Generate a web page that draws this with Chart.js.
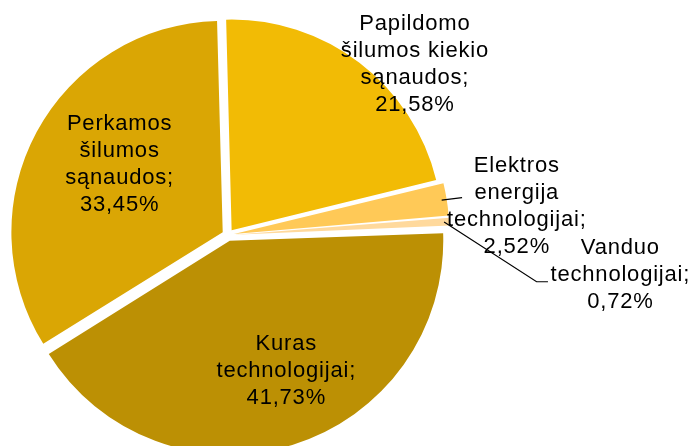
<!DOCTYPE html>
<html>
<head>
<meta charset="utf-8">
<script src="https://cdn.jsdelivr.net/npm/chart.js@4"></script>
<style>
  html, body { margin: 0; padding: 0; background: #fff; overflow: hidden; }
  #wrap { width: 692px; height: 446px; position: relative; }
</style>
</head>
<body>
<div id="wrap"><canvas id="pieChart"></canvas></div>
<script>
// slices, clockwise from the top
const categories = [
  'Papildomo\nšilumos kiekio\nsąnaudos',
  'Elektros\nenergija\ntechnologijai',
  'Vanduo\ntechnologijai',
  'Kuras\ntechnologijai',
  'Perkamos\nšilumos\nsąnaudos'
];
const values = [21.58, 2.52, 0.72, 41.73, 33.45];
const colors = ['#F2BB05', '#FFC957', '#FFD99C', '#BC9004', '#DAA604'];

// label centres, as fractions of the radius from the pie centre
const labelPos = [[0.888, -0.812], [1.372, -0.136], [1.864, 0.191], [0.277, 0.648], [-0.515, -0.336]];
// leader lines (slices whose label sits outside)
const leaders = { 1: [[1.112, -0.178]], 2: [[1.466, 0.222], [1.520, 0.222]] };

const pctText = v => v.toFixed(2).replace('.', ',') + '%';

const pieLabels = {
  id: 'pieLabels',
  afterDatasetsDraw(chart) {
    const ctx = chart.ctx;
    const arcs = chart.getDatasetMeta(0).data;
    const fontSize = 22, lh = 27;
    ctx.save();
    ctx.fillStyle = '#000';
    ctx.strokeStyle = '#000';
    ctx.lineWidth = 1.2;
    ctx.font = fontSize + 'px "Liberation Sans", Arial, sans-serif';
    ctx.letterSpacing = '0.8px';
    ctx.textAlign = 'center';
    ctx.textBaseline = 'middle';
    arcs.forEach((arc, i) => {
      const { x, y, outerRadius: r, startAngle, endAngle } = arc.getProps(['x', 'y', 'outerRadius', 'startAngle', 'endAngle'], true);
      if (leaders[i]) {
        const mid = (startAngle + endAngle) / 2;
        const off = arc.options.offset / 4; // v4 draws arcs offset by offset/4
        ctx.beginPath();
        ctx.moveTo(x + (r + off) * Math.cos(mid), y + (r + off) * Math.sin(mid));
        leaders[i].forEach(p => ctx.lineTo(x + p[0] * r, y + p[1] * r));
        ctx.stroke();
      }
      const lines = (categories[i] + ';').split('\n').concat(pctText(values[i]));
      const cx = x + labelPos[i][0] * r, cy = y + labelPos[i][1] * r;
      lines.forEach((t, k) => {
        ctx.fillText(t, cx, cy + (k - (lines.length - 1) / 2) * lh);
      });
    });
    ctx.restore();
  }
};

new Chart(document.getElementById('pieChart'), {
  type: 'pie',
  data: {
    labels: categories,
    datasets: [{
      data: values,
      backgroundColor: colors,
      borderWidth: 0,
      offset: 24,
      hoverOffset: 0,
      clip: false
    }]
  },
  options: {
    responsive: true,
    maintainAspectRatio: false,
    animation: false,
    events: [],
    rotation: -1.5,
    radius: 210.5,
    layout: { padding: { left: 0, right: 236, top: 24, bottom: 0 } },
    plugins: {
      legend: { display: false },
      tooltip: { enabled: false }
    }
  },
  plugins: [pieLabels]
});
</script>
</body>
</html>
